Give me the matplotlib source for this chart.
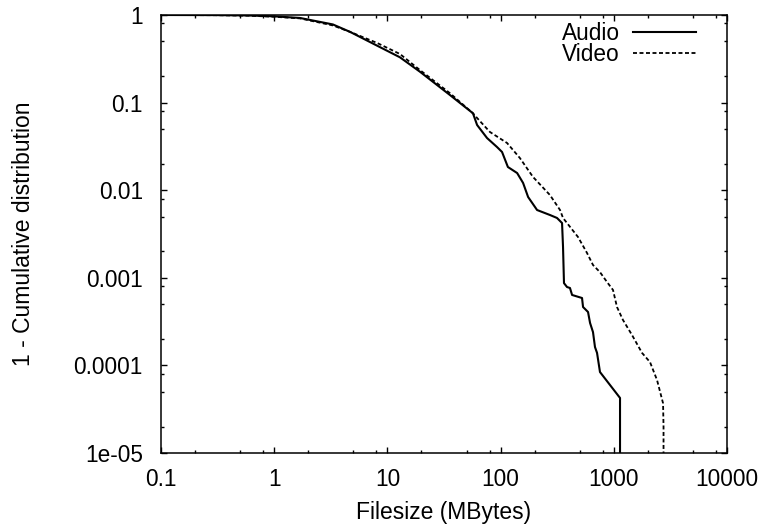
import matplotlib
matplotlib.use("Agg")
import matplotlib.pyplot as plt
from matplotlib.ticker import LogLocator, NullFormatter, FixedLocator, FixedFormatter

plt.rcParams['font.family'] = ['Liberation Sans', 'DejaVu Sans']

# Audio: filesize (MB) vs 1 - CDF
audio_x = [0.1, 0.3, 0.6, 1.0, 1.69, 3.3, 4.7, 8.1, 12.9, 19.4, 35.7, 57, 62, 75.9, 93, 103,
           116, 140, 158, 175, 210, 273, 315, 349, 356, 363, 386, 410, 428, 524, 535, 592,
           617, 655, 682, 711, 755, 1135, 1135]
audio_y = [1.0, 0.997, 0.987, 0.965, 0.925, 0.78, 0.64, 0.447, 0.329, 0.225, 0.122, 0.0755, 0.0555,
           0.0394, 0.0311, 0.0273, 0.0184, 0.0157, 0.0121, 0.00836, 0.00594, 0.00521, 0.00482,
           0.00422, 0.00225, 0.00087, 0.000785, 0.000765, 0.000637, 0.000588, 0.000464,
           0.000407, 0.000305, 0.00024, 0.000162, 0.000139, 8.4e-5, 4.25e-5, 5e-6]

# Video
video_x = [0.1, 0.3, 0.6, 1.0, 1.69, 3.3, 4.7, 8.1, 12.9, 19.4, 35.7, 57, 62, 80.5, 114, 148,
           193, 273, 335, 356, 483, 580, 655, 755, 871, 984, 1067, 1205, 1449, 1775, 2089,
           2410, 2723, 2750, 2750]
video_y = [1.0, 0.995, 0.982, 0.955, 0.915, 0.76, 0.64, 0.48, 0.359, 0.235, 0.128, 0.0755, 0.0667,
           0.0462, 0.0346, 0.0233, 0.0142, 0.0088, 0.00594, 0.00482, 0.00292, 0.00192, 0.0014,
           0.00116, 0.000895, 0.000726, 0.000464, 0.00033, 0.000222, 0.000139, 0.000109,
           6.8e-5, 3.7e-5, 2.0e-5, 5e-6]

x_ticks = [0.1, 1, 10, 100, 1000, 10000]
x_labels = ['0.1', '1', '10', '100', '1000', '10000']
y_ticks = [1e-5, 1e-4, 1e-3, 1e-2, 1e-1, 1]
y_labels = ['1e-05', '0.0001', '0.001', '0.01', '0.1', '1']

fig = plt.figure(figsize=(7.66, 5.26), dpi=100)
ax = fig.add_axes([161/766, 73/526, (727-161)/766, (453-15)/526])

ax.plot(audio_x, audio_y, color='black', lw=1.5, label='Audio')
ax.plot(video_x, video_y, color='black', lw=1.3, dashes=(2.2, 1.4), label='Video')

ax.set_xscale('log')
ax.set_yscale('log')
ax.set_xlim(0.1, 10000)
ax.set_ylim(1e-5, 1)

ax.xaxis.set_major_locator(FixedLocator(x_ticks))
ax.xaxis.set_major_formatter(FixedFormatter(x_labels))
ax.yaxis.set_major_locator(FixedLocator(y_ticks))
ax.yaxis.set_major_formatter(FixedFormatter(y_labels))
ax.xaxis.set_minor_locator(LogLocator(base=10, subs=[2, 5, 8]))
ax.yaxis.set_minor_locator(LogLocator(base=10, subs=[2, 5, 8]))
ax.xaxis.set_minor_formatter(NullFormatter())
ax.yaxis.set_minor_formatter(NullFormatter())

ax.tick_params(which='both', direction='in', top=True, right=True, labelsize=16.3, width=1.0)
ax.tick_params(which='major', length=4.5)
ax.tick_params(axis='x', which='major', pad=11)
ax.tick_params(axis='y', which='major', pad=13)
ax.tick_params(which='minor', length=2.2)
for s in ax.spines.values():
    s.set_linewidth(1.1)

ax.set_xlabel('Filesize (MBytes)', fontsize=16.5, labelpad=7)
ax.set_ylabel('1 - Cumulative distribution', fontsize=16.5, labelpad=28)

leg = ax.legend(loc='upper right', bbox_to_anchor=(0.966, 1.01), frameon=False, markerfirst=False,
                fontsize=16.3, handlelength=2.8, handletextpad=0.6, labelspacing=-0.1,
                borderaxespad=0.1)

fig.savefig('out.png', dpi=100)
